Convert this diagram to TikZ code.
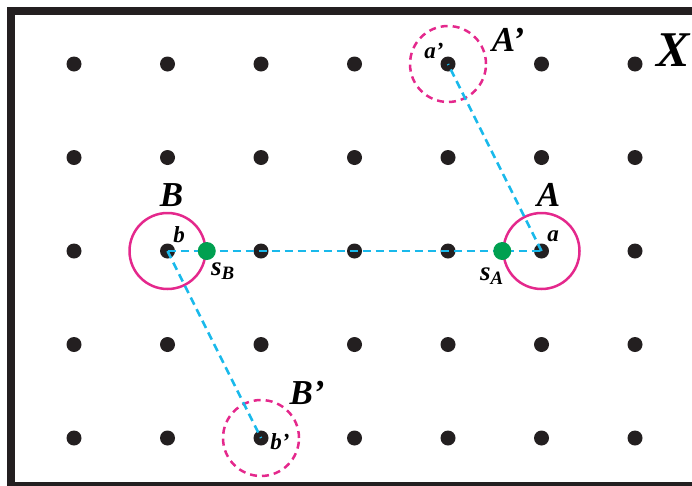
\documentclass[tikz,border=0pt]{standalone}
\usepackage{fontspec}
\setmainfont{Liberation Serif}
\usetikzlibrary{positioning}
\definecolor{dotblack}{RGB}{35,31,32}
\definecolor{ringpink}{RGB}{228,40,140}
\definecolor{linkcyan}{RGB}{25,185,235}
\definecolor{sitegreen}{RGB}{0,160,80}

\begin{document}
\begin{tikzpicture}[x=1pt, y=-1pt,
        site/.style={circle, fill=dotblack, inner sep=0pt, minimum size=15pt},
        seed/.style={circle, fill=sitegreen, inner sep=0pt, minimum size=18pt},
        ring/.style={circle, draw=ringpink, line width=2.5pt, inner sep=0pt, minimum size=76pt},
        ghost/.style={ring, dash pattern=on 7pt off 5pt},
        link/.style={draw=linkcyan, line width=2.6pt, dash pattern=on 8pt off 5pt},
        lab/.style={font=\fontsize{35}{35}\selectfont\bfseries\itshape, inner sep=0pt},
        sublab/.style={font=\fontsize{23}{23}\selectfont\bfseries\itshape, inner sep=0pt},
        seedlab/.style={font=\fontsize{27}{27}\selectfont\bfseries\itshape, inner sep=0pt}]
        \useasboundingbox (0,0) rectangle (692,485);
        \clip (0,0) rectangle (692,485);

        % Rahmen
        \draw[line width=8pt, dotblack] (11,11) rectangle (720,486);

        % Gitterpunkte
        \foreach \i/\x in {1/74,2/167.5,3/261,4/354.5,5/448,6/541.5,7/635}
            \foreach \j/\y in {1/64,2/157.5,3/251,4/344.5,5/438}
                \node[site] (d-\i-\j) at (\x,\y) {};

        % Kreise
        \node[ring] (ringA) at (d-6-3) {};
        \node[ring] (ringB) at (d-2-3) {};
        \node[ghost] (ringAp) at (d-5-1) {};
        \node[ghost] (ringBp) at (d-3-5) {};

        % Verbindungen
        \path[link] (d-2-3.center) -- (d-6-3.center);
        \path[link] (d-6-3.center) -- (d-5-1.center);
        \path[link] (d-2-3.center) -- (d-3-5.center);

        \node[seed] (sB) at (ringB.east) {};
        \node[seed] (sA) at (ringA.west) {};

        % Beschriftungen
        \node[lab, above=5pt of ringA, xshift=7pt] (labA) {A};
        \node[lab, above=5pt of ringB, xshift=4pt] (labB) {B};
        \node[lab] (labAp) at (508,40) {A’};
        \node[lab] (labBp) at (307,393) {B’};
        \node[sublab] (laba) at (553,236) {a};
        \node[sublab] (labb) at (179,235) {b};
        \node[sublab] (labap) at (434,51) {a’};
        \node[sublab] (labbp) at (280,442) {b’};
        \node[seedlab] (labsB) at (223,271) {s\textsubscript{B}};
        \node[seedlab] (labsA) at (492,276) {s\textsubscript{A}};
        \node[font=\fontsize{50}{50}\selectfont\bfseries\itshape, inner sep=0pt] (labX) at (673,50) {X};
\end{tikzpicture}
\end{document}
